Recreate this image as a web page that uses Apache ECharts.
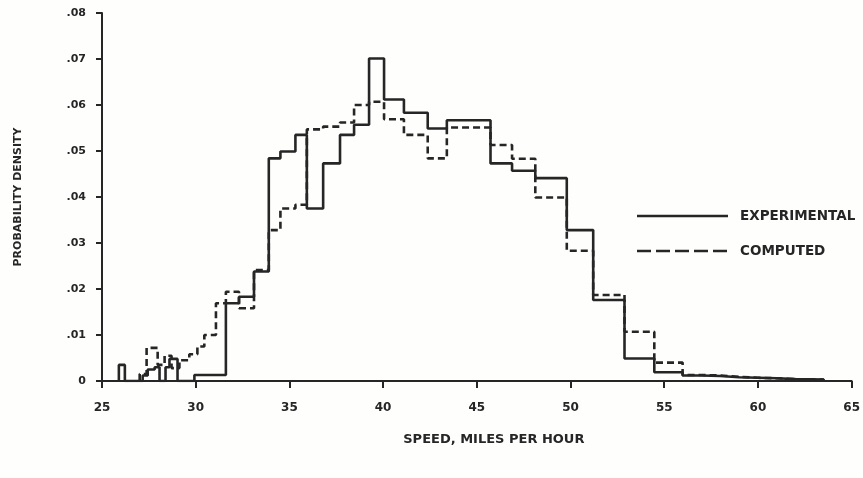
<!DOCTYPE html>
<html>
<head>
<meta charset="utf-8">
<script src="https://cdn.jsdelivr.net/npm/echarts@6/dist/echarts.min.js"></script>
<style>
html,body{margin:0;padding:0;background:#fefefd;}
#chart{width:863px;height:478px;}
</style>
</head>
<body>
<div id="chart"></div>
<script>
// ---- data ----
const xTicks = [25, 30, 35, 40, 45, 50, 55, 60, 65];
const yTickLabels = ['0', '.01', '.02', '.03', '.04', '.05', '.06', '.07', '.08'];
const seriesNames = ['EXPERIMENTAL', 'COMPUTED'];

// bin edges (mph) and probability density per bin
const expEdges = [25.90, 26.22, 27.17, 27.44, 27.81, 28.07, 28.39, 28.60, 29.03, 29.93, 31.61, 32.31, 33.11, 33.90, 34.52, 35.32, 35.93, 36.80, 37.70, 38.45, 39.25, 40.05, 41.11, 42.38, 43.40, 45.73, 46.88, 48.12, 49.80, 51.21, 52.88, 54.47, 55.98, 57.0, 58.0, 59.0, 60.0, 61.0, 62.0, 63.5];
const expDensity = [0.0035, 0, 0.0012, 0.0025, 0.0030, 0, 0.0030, 0.0048, 0, 0.0013, 0.0169, 0.0183, 0.0238, 0.0484, 0.0499, 0.0535, 0.0375, 0.0473, 0.0535, 0.0557, 0.0701, 0.0612, 0.0583, 0.0549, 0.0567, 0.0473, 0.0457, 0.0441, 0.0328, 0.0176, 0.0049, 0.0019, 0.0012, 0.0011, 0.0008, 0.0007, 0.0006, 0.0004, 0.0003];

const compEdges = [27.01, 27.38, 27.97, 28.34, 28.71, 29.13, 29.66, 30.09, 30.46, 31.08, 31.61, 32.31, 33.11, 33.90, 34.52, 35.32, 35.93, 36.80, 37.70, 38.45, 39.25, 40.05, 41.11, 42.38, 43.40, 45.73, 46.88, 48.12, 49.80, 51.21, 52.88, 54.47, 55.98, 57.0, 58.0, 59.0, 60.0, 61.0, 62.0, 63.5];
const compDensity = [0.0015, 0.0072, 0.0035, 0.0055, 0.0028, 0.0045, 0.0058, 0.0075, 0.0100, 0.0169, 0.0194, 0.0158, 0.0241, 0.0328, 0.0375, 0.0383, 0.0547, 0.0553, 0.0562, 0.0600, 0.0607, 0.0569, 0.0535, 0.0484, 0.0551, 0.0513, 0.0483, 0.0399, 0.0283, 0.0187, 0.0107, 0.0040, 0.0013, 0.0012, 0.0009, 0.0007, 0.0006, 0.0004, 0.0003];

// ---- build step outlines from the bins ----
function stepPoints(edges, vals) {
  const pts = [[edges[0], 0]];
  for (let i = 0; i < vals.length; i++) pts.push([edges[i], vals[i]]);
  pts.push([edges[edges.length - 1], 0]);
  return pts;
}

const ink = '#262626';
const fontFam = 'DejaVu Sans, Liberation Sans, sans-serif';

const chart = echarts.init(document.getElementById('chart'), null, {renderer: 'canvas'});
chart.setOption({
  backgroundColor: '#fefefd',
  animation: false,
  grid: {left: 102, right: 6, top: 13, bottom: 97},
  graphic: [
    {type: 'line', shape: {x1: 637, y1: 216, x2: 728, y2: 216}, style: {stroke: ink, lineWidth: 2.6}},
    {type: 'text', x: 740, y: 216, style: {text: seriesNames[0], fill: ink, fontSize: 13.5, fontWeight: 'bold', fontFamily: fontFam, verticalAlign: 'middle', align: 'left'}},
    {type: 'line', shape: {x1: 637, y1: 251, x2: 728, y2: 251}, style: {stroke: ink, lineWidth: 2.6, lineDash: [14, 5]}},
    {type: 'text', x: 740, y: 251, style: {text: seriesNames[1], fill: ink, fontSize: 13.5, fontWeight: 'bold', fontFamily: fontFam, verticalAlign: 'middle', align: 'left'}}
  ],
  xAxis: {
    type: 'value',
    min: xTicks[0],
    max: xTicks[xTicks.length - 1],
    interval: 5,
    name: 'SPEED, MILES PER HOUR',
    nameLocation: 'middle',
    nameGap: 52,
    nameTextStyle: {color: ink, fontSize: 13, fontWeight: 'bold', fontFamily: fontFam, padding: [0, 0, 0, 34]},
    axisLine: {lineStyle: {color: ink, width: 2}},
    axisTick: {show: true, length: 7, lineStyle: {color: ink, width: 2}},
    axisLabel: {color: ink, fontSize: 12, fontWeight: 'bold', fontFamily: fontFam, margin: 21},
    splitLine: {show: false}
  },
  yAxis: {
    type: 'value',
    min: 0,
    max: 0.08,
    interval: 0.01,
    name: 'PROBABILITY DENSITY',
    nameLocation: 'middle',
    nameRotate: 90,
    nameGap: 78,
    nameTextStyle: {color: ink, fontSize: 11, fontWeight: 'bold', fontFamily: fontFam},
    axisLine: {show: true, lineStyle: {color: ink, width: 2}},
    axisTick: {show: true, length: 6, lineStyle: {color: ink, width: 2}},
    axisLabel: {
      color: ink, fontSize: 11, fontWeight: 'bold', fontFamily: fontFam, margin: 16,
      formatter: function (v) { return yTickLabels[Math.round(v / 0.01)]; }
    },
    splitLine: {show: false}
  },
  series: [
    {
      name: seriesNames[0],
      type: 'line',
      step: 'end',
      symbol: 'none',
      data: stepPoints(expEdges, expDensity),
      lineStyle: {color: ink, width: 2.6, type: 'solid'},
      itemStyle: {color: ink},
      z: 3
    },
    {
      name: seriesNames[1],
      type: 'line',
      step: 'end',
      symbol: 'none',
      data: stepPoints(compEdges, compDensity),
      lineStyle: {color: ink, width: 2.6, type: [7, 4]},
      itemStyle: {color: ink},
      z: 2
    }
  ]
});
</script>
</body>
</html>
